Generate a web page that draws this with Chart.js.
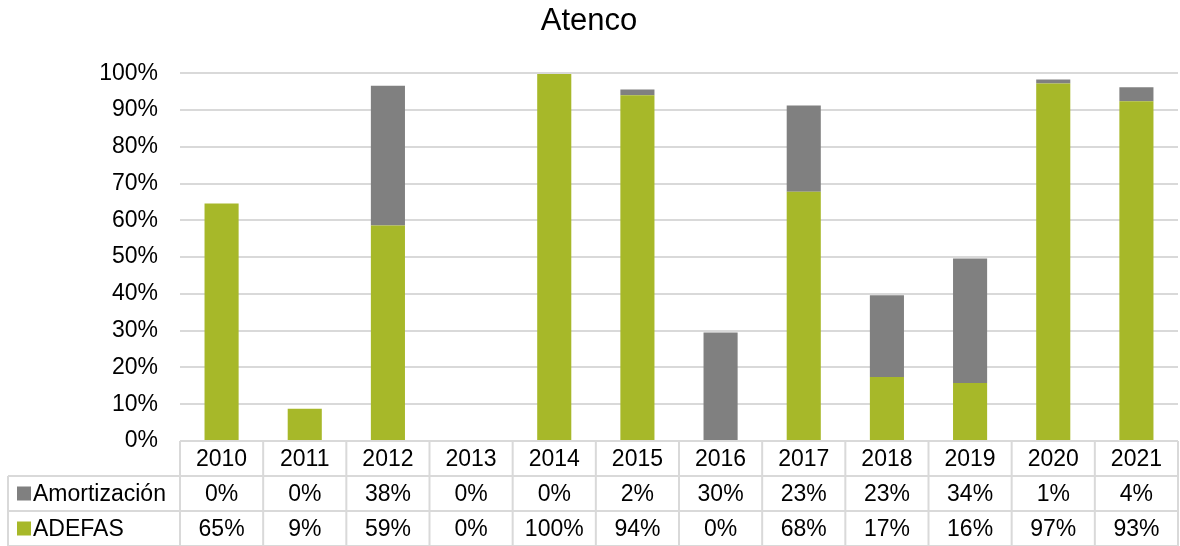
<!DOCTYPE html>
<html><head><meta charset="utf-8">
<script src="https://cdn.jsdelivr.net/npm/chart.js@4.4.0/dist/chart.umd.min.js"></script>
<style>html,body{margin:0;padding:0;background:#fff}#wrap{width:1180px;height:546px}</style>
</head><body><div id="wrap"><canvas id="c" width="1180" height="546"></canvas></div>
<script>
const categories = ['2010','2011','2012','2013','2014','2015','2016','2017','2018','2019','2020','2021'];
const adefas = [64.6, 8.8, 58.6, 0, 99.8, 94.0, 0, 67.8, 17.4, 15.8, 97.2, 92.4];
const amortizacion = [0, 0, 38.0, 0, 0, 1.6, 29.5, 23.4, 22.2, 33.8, 1.1, 3.8];
const adefasLabels = ['65%','9%','59%','0%','100%','94%','0%','68%','17%','16%','97%','93%'];
const amortLabels = ['0%','0%','38%','0%','0%','2%','30%','23%','23%','34%','1%','4%'];
const yTicks = [0,10,20,30,40,50,60,70,80,90,100];

const GREEN = '#a7b829', GRAY = '#808080', LINE = '#d9d9d9';
const FONT = "'Liberation Sans', Arial, sans-serif";

const tablePlugin = {
  id: 'dataTable',
  afterDraw(chart) {
    const ctx = chart.ctx, x = chart.scales.x, ca = chart.chartArea;
    const n = categories.length;
    const cw = (ca.right - ca.left) / n;
    const top = ca.bottom, rh = 35;
    const leftX = 8;
    ctx.save();
    ctx.strokeStyle = LINE; ctx.lineWidth = 2;
    ctx.beginPath();
    ctx.moveTo(ca.left, top); ctx.lineTo(ca.right, top);
    for (let r = 1; r <= 3; r++) { ctx.moveTo(leftX, top + rh*r); ctx.lineTo(ca.right, top + rh*r); }
    for (let i = 0; i <= n; i++) { const xx = ca.left + cw*i; ctx.moveTo(xx, top); ctx.lineTo(xx, top + rh*3); }
    ctx.moveTo(leftX, top + rh); ctx.lineTo(leftX, top + rh*3);
    ctx.stroke();
    ctx.fillStyle = '#000'; ctx.font = '23px ' + FONT;
    ctx.textAlign = 'center'; ctx.textBaseline = 'middle';
    for (let i = 0; i < n; i++) {
      const cx = x.getPixelForValue(i);
      ctx.fillText(categories[i], cx, top + rh*0.5 + 1);
      ctx.fillText(amortLabels[i], cx, top + rh*1.5 + 1);
      ctx.fillText(adefasLabels[i], cx, top + rh*2.5 + 1);
    }
    ctx.textAlign = 'left';
    ctx.fillStyle = GRAY; ctx.fillRect(17, top + rh*1.5 - 7, 14, 14);
    ctx.fillStyle = GREEN; ctx.fillRect(17, top + rh*2.5 - 7, 14, 14);
    ctx.fillStyle = '#000';
    ctx.fillText('Amortización', 33, top + rh*1.5 + 1);
    ctx.fillText('ADEFAS', 33, top + rh*2.5 + 1);
    ctx.restore();
  }
};

new Chart(document.getElementById('c'), {
  type: 'bar',
  data: {
    labels: categories,
    datasets: [
      { label: 'ADEFAS', data: adefas, backgroundColor: GREEN, barPercentage: 0.41, categoryPercentage: 1.0 },
      { label: 'Amortización', data: amortizacion, backgroundColor: GRAY, barPercentage: 0.41, categoryPercentage: 1.0 }
    ]
  },
  options: {
    responsive: false, animation: false,
    layout: { padding: { left: 0, right: 2, top: 0, bottom: 97 } },
    plugins: {
      legend: { display: false }, tooltip: { enabled: false },
      title: { display: true, text: 'Atenco', color: '#000', font: { family: FONT, size: 31, weight: 'normal' }, padding: { top: 3, bottom: 33 } }
    },
    scales: {
      x: { stacked: true, ticks: { display: false }, grid: { display: false }, border: { display: false } },
      y: {
        stacked: true, min: 0, max: 100,
        afterBuildTicks: (s) => { s.ticks = yTicks.map(v => ({ value: v })); },
        afterFit: (s) => { s.width = 180; },
        ticks: { callback: v => v + '%', color: '#000', font: { family: FONT, size: 23 }, padding: 22 },
        grid: { color: LINE, lineWidth: 2, drawTicks: false },
        border: { display: false }
      }
    }
  },
  plugins: [tablePlugin]
});
</script></body></html>
